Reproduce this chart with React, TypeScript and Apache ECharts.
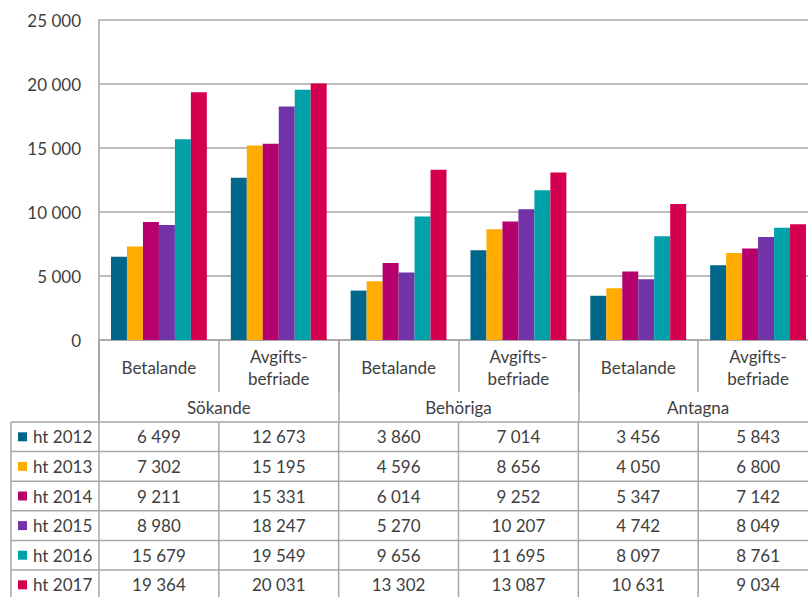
import React, { useEffect, useRef } from "react";
import * as echarts from "echarts";

const years = ["ht 2012", "ht 2013", "ht 2014", "ht 2015", "ht 2016", "ht 2017"];
const subCategories = [
  "Betalande",
  "Avgifts-\nbefriade",
  "Betalande",
  "Avgifts-\nbefriade",
  "Betalande",
  "Avgifts-\nbefriade",
];
const groups = ["Sökande", "Behöriga", "Antagna"];
const ht2012 = [6499, 12673, 3860, 7014, 3456, 5843];
const ht2013 = [7302, 15195, 4596, 8656, 4050, 6800];
const ht2014 = [9211, 15331, 6014, 9252, 5347, 7142];
const ht2015 = [8980, 18247, 5270, 10207, 4742, 8049];
const ht2016 = [15679, 19549, 9656, 11695, 8097, 8761];
const ht2017 = [19364, 20031, 13302, 13087, 10631, 9034];
const seriesValues = [ht2012, ht2013, ht2014, ht2015, ht2016, ht2017];
const colors = ["#00678a", "#ffab00", "#b5006e", "#7232a8", "#00a1a9", "#d4004f"];

const FONT = "Lato, 'Open Sans', sans-serif";
const TEXT = "#404040";
const LINE = "#a6a6a6";
const rowTop = 422;
const rowH = 29.6;
const tableBottom = rowTop + rowH * 6;
const CHART_W = 840;

const fmt = (n: number) => String(n).replace(/\B(?=(\d{3})+(?!\d))/g, " ");

export default function App() {
  const ref = useRef<HTMLDivElement>(null);
  useEffect(() => {
    if (!ref.current) return;
    const chart = echarts.init(ref.current, null, { renderer: "svg" });

    const graphics: any[] = [];
    for (let k = 0; k <= 6; k++) {
      graphics.push({
        type: "line",
        shape: { x1: 11, y1: rowTop + k * rowH, x2: 818, y2: rowTop + k * rowH },
        style: { stroke: LINE, lineWidth: 1.5 },
        silent: true,
      });
    }
    graphics.push({
      type: "line",
      shape: { x1: 11, y1: rowTop, x2: 11, y2: tableBottom },
      style: { stroke: LINE, lineWidth: 1.5 },
      silent: true,
    });
    years.forEach((y, r) => {
      const cy = rowTop + r * rowH + rowH / 2;
      graphics.push({
        type: "rect",
        shape: { x: 18, y: cy - 4.5, width: 9, height: 9 },
        style: { fill: colors[r] },
        silent: true,
      });
      graphics.push({
        type: "text",
        x: 33,
        y: cy,
        style: {
          text: y,
          fill: TEXT,
          fontSize: 17,
          fontFamily: FONT,
          verticalAlign: "middle",
          align: "left",
        },
        silent: true,
      });
    });

    chart.setOption({
      animation: false,
      grid: { left: 99, top: 20, bottom: 257, right: CHART_W - 818, containLabel: false },
      xAxis: [
        {
          type: "category",
          data: subCategories,
          position: "bottom",
          axisLine: { show: true, lineStyle: { color: LINE, width: 1.5 } },
          axisTick: { show: true, length: 52, interval: 0, lineStyle: { color: LINE, width: 1.5 } },
          axisLabel: {
            interval: 0,
            margin: 27,
            verticalAlign: "middle",
            lineHeight: 22,
            fontSize: 17,
            fontFamily: FONT,
            color: TEXT,
          },
        },
        {
          type: "category",
          data: groups,
          position: "bottom",
          axisLine: { show: false },
          axisTick: { show: true, length: 82, interval: 0, lineStyle: { color: LINE, width: 1.5 } },
          axisLabel: {
            interval: 0,
            margin: 67,
            verticalAlign: "middle",
            fontSize: 17,
            fontFamily: FONT,
            color: TEXT,
          },
        },
      ],
      yAxis: {
        type: "value",
        min: 0,
        max: 25000,
        interval: 5000,
        axisLine: { show: true, lineStyle: { color: LINE, width: 1.5 } },
        axisTick: { show: false },
        splitLine: { show: true, lineStyle: { color: LINE, width: 1.5 } },
        axisLabel: {
          margin: 18,
          fontSize: 17,
          fontFamily: FONT,
          color: TEXT,
          formatter: (v: number) => fmt(v),
        },
      },
      series: [
        ...seriesValues.map((vals, i) => ({
          type: "bar",
          name: years[i],
          data: vals,
          xAxisIndex: 0,
          itemStyle: { color: colors[i] },
          barGap: "0%",
          barCategoryGap: "20%",
        })),
        {
          type: "custom",
          xAxisIndex: 0,
          yAxisIndex: 0,
          clip: false,
          silent: true,
          data: subCategories.map((_, i) => [i, 0]),
          renderItem: (params: any, api: any) => {
            const idx = params.dataIndex;
            const c = api.coord([idx, 0]);
            const bw = api.size([1, 0])[0];
            const children: any[] = [];
            seriesValues.forEach((vals, r) => {
              children.push({
                type: "text",
                x: c[0],
                y: rowTop + r * rowH + rowH / 2,
                style: {
                  text: fmt(vals[idx]),
                  fill: TEXT,
                  fontSize: 17,
                  fontFamily: FONT,
                  align: "center",
                  verticalAlign: "middle",
                },
              });
            });
            children.push({
              type: "line",
              shape: { x1: c[0] + bw / 2, y1: rowTop, x2: c[0] + bw / 2, y2: tableBottom },
              style: { stroke: LINE, lineWidth: 1.5 },
            });
            if (idx === 0) {
              children.push({
                type: "line",
                shape: { x1: c[0] - bw / 2, y1: c[1], x2: c[0] - bw / 2, y2: tableBottom },
                style: { stroke: LINE, lineWidth: 1.5 },
              });
            }
            return { type: "group", children };
          },
        },
      ],
      graphic: graphics,
    });
    return () => chart.dispose();
  }, []);
  return (
    <div
      style={{
        position: "absolute",
        left: 0,
        top: 0,
        width: 808,
        height: 597,
        overflow: "hidden",
        background: "#fff",
      }}
    >
      <div ref={ref} style={{ width: CHART_W, height: 597 }} />
    </div>
  );
}
